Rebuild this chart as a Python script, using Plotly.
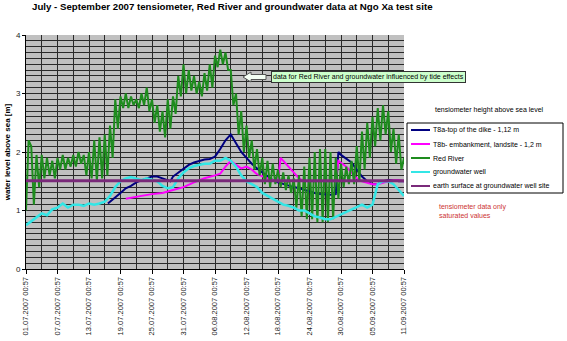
import datetime as dt
import plotly.graph_objects as go

START = dt.datetime(2007, 7, 1, 0, 57)

# ---- data (day offsets from 01.07.2007 00:57, values in m above sea level) ----
rr_high = [2.20, 2.10, 1.95, 1.95, 1.90, 1.85, 1.90, 1.95, 1.90, 1.95,
           2.00, 1.95, 2.00, 2.20, 2.25, 2.30, 2.45, 2.90, 2.95, 3.00,
           2.95, 2.90, 3.00, 3.10, 2.90, 2.80, 2.70, 2.90, 2.95, 3.30,
           3.50, 3.40, 3.30, 3.20, 3.35, 3.50, 3.65, 3.75, 3.70, 3.40,
           3.00, 2.70, 2.45, 2.20, 2.05, 1.90, 1.85, 1.80, 1.70, 1.65,
           1.60, 1.55, 1.60, 1.75, 1.90, 2.00, 2.05, 2.05, 2.00, 1.90,
           1.80, 1.75, 1.85, 2.10, 2.35, 2.50, 2.60, 2.75, 2.80, 2.70,
           2.40, 2.30]
rr_low = [1.00, 1.10, 1.40, 1.55, 1.60, 1.55, 1.70, 1.70, 1.75, 1.75,
          1.80, 1.60, 1.55, 1.50, 1.55, 1.60, 1.90, 2.40, 2.75, 2.75,
          2.80, 2.75, 2.80, 2.70, 2.50, 2.35, 2.25, 2.40, 2.65, 2.95,
          3.00, 3.05, 3.00, 2.95, 3.05, 3.10, 3.45, 3.50, 3.40, 2.80,
          2.30, 2.00, 1.90, 1.70, 1.60, 1.45, 1.40, 1.45, 1.40, 1.35,
          1.30, 1.05, 0.90, 0.85, 0.85, 0.80, 0.80, 0.80, 0.85, 1.20,
          1.40, 1.45, 1.45, 1.50, 1.70, 1.90, 2.10, 2.20, 2.30, 2.00,
          1.80, 1.70]
rr_end = 1.90

gw_days = [0, 1, 2, 3, 4, 5, 6, 7, 8, 9, 10, 11, 12, 13, 14, 15, 16, 17, 18, 19,
           20, 21, 22, 23, 24, 25, 26, 27, 28, 29, 30, 31, 32, 33, 34, 35, 36, 37, 38, 39,
           40, 41, 42, 43, 44, 45, 46, 47, 48, 49, 50, 51, 52, 53, 54, 55, 56, 57, 58,
           63, 64, 65, 66, 67, 68, 69, 70, 71, 72]
gw_vals = [0.75, 0.82, 0.88, 0.95, 0.92, 1.02, 1.05, 1.12, 1.05, 1.10, 1.10, 1.08, 1.12, 1.10, 1.12, 1.15, 1.25, 1.40, 1.50, 1.55,
           1.57, 1.55, 1.52, 1.55, 1.52, 1.50, 1.42, 1.38, 1.40, 1.55, 1.65, 1.72, 1.76, 1.78, 1.80, 1.80, 1.85, 1.85, 1.90, 1.85,
           1.75, 1.60, 1.50, 1.45, 1.40, 1.30, 1.25, 1.20, 1.15, 1.10, 1.08, 1.05, 1.00, 1.00, 0.95, 0.90, 0.88, 0.85, 0.85,
           1.05, 1.10, 1.05, 1.10, 1.45, 1.50, 1.50, 1.45, 1.35, 1.25]

t8a_days = [15.6, 17, 18, 19, 20, 21, 22, 23, 24, 25, 26, 27, 27.5, 28, 29, 30, 31, 32, 33, 34,
            35, 36, 37, 38, 39, 40, 41, 42, 43, 44, 45, 46, 47, 48, 49, 50, 51, 52, 53, 54,
            55, 56, 57, 58, 59, 59.5, 60, 61, 62, 63, 64, 65, 66, 67, 68, 69, 70, 71, 72]
t8a_vals = [1.12, 1.22, 1.30, 1.38, 1.42, 1.48, 1.52, 1.55, 1.58, 1.58, 1.55, 1.52, 1.50, 1.58, 1.65, 1.72, 1.78, 1.82, 1.85, 1.87,
            1.88, 1.92, 2.05, 2.20, 2.30, 2.15, 2.00, 1.90, 1.80, 1.72, 1.65, 1.58, 1.52, 1.48, 1.45, 1.42, 1.40, 1.38, 1.35, 1.33,
            1.30, 1.28, 1.27, 1.27, 1.28, 2.00, 1.95, 1.88, 1.82, 1.70, 1.58, 1.50, 1.45, 1.45, 1.50, 1.52, 1.52, 1.50, 1.50]

t8b_days = [19, 20, 22, 24, 26, 28, 30, 32, 34, 36, 37, 38, 39, 40, 41, 42, 43, 44, 45, 46,
            47, 48, 48.5, 49, 50, 51, 52, 53, 54, 56, 58, 59, 59.5, 60, 61, 62, 63, 64, 65, 66,
            67, 68, 69, 70, 71, 72]
t8b_vals = [1.20, 1.22, 1.25, 1.28, 1.30, 1.35, 1.40, 1.48, 1.55, 1.60, 1.63, 1.75, 1.85, 1.78, 1.72, 1.75, 1.70, 1.62, 1.58, 1.55,
            1.52, 1.50, 1.90, 1.85, 1.75, 1.65, 1.55, 1.50, 1.50, 1.50, 1.50, 1.50, 1.85, 1.82, 1.75, 1.65, 1.55, 1.50, 1.48, 1.45,
            1.45, 1.48, 1.50, 1.52, 1.52, 1.50]

surface_days = [0, 72]
surface_vals = [1.51, 1.51]

series_names = ["T8a-top of the dike - 1,12 m",
                "T8b- embankment, landsite - 1,2 m",
                "Red River",
                "groundwater well",
                "earth surface at groundwater well site"]
series_colors = ["#000080", "#FF00FF", "#1E8C1E", "#33E6E6", "#7A2A7A"]
series_widths = [2, 2, 2, 2.5, 3]

# ---- build time axes from the day offsets ----
def to_dates(days):
    return [START + dt.timedelta(days=d) for d in days]

rr_days, rr_vals = [], []
for i, (h, l) in enumerate(zip(rr_high, rr_low)):
    rr_days += [i + 0.0, i + 0.5]
    rr_vals += [l if i == 0 else h, h if i == 0 else l]
rr_days.append(72)
rr_vals.append(rr_end)

# ---- pixel helpers for non-data decorations ----
W, H = 567, 341
L, R, T, B = 26, 404, 35, 269
def px(x):
    return (x - L) / (R - L)
def py(y):
    return (B - y) / (B - T)

FONT = "Liberation Sans, Arial, sans-serif"

fig = go.Figure()
all_series = [(t8a_days, t8a_vals), (t8b_days, t8b_vals), (rr_days, rr_vals),
              (gw_days, gw_vals), (surface_days, surface_vals)]
for (d, v), nm, c, w in zip(all_series, series_names, series_colors, series_widths):
    fig.add_trace(go.Scatter(x=to_dates(d), y=v, mode="lines", name=nm,
                             line=dict(color=c, width=w), showlegend=False))

grid = "#2a2a2a"
fig.update_layout(
    width=W, height=H,
    margin=dict(l=L, r=W - R, t=T, b=H - B, pad=0),
    paper_bgcolor="white", plot_bgcolor="#C0C0C0",
    font=dict(family=FONT, size=8, color="black"),
    title=dict(text="<b>July - September 2007 tensiometer, Red River and groundwater data at Ngo Xa test site</b>",
               x=32 / W, xanchor="left", y=1 - 7 / H, yanchor="middle",
               font=dict(family=FONT, size=9.7, color="black")),
    showlegend=False,
    xaxis=dict(
        type="date", automargin=False,
        range=[START, START + dt.timedelta(days=72)],
        tick0=START, dtick=6 * 86400000,
        tickformat="%d.%m.%Y %H:%M", tickangle=-90,
        tickfont=dict(family=FONT, size=7.5, color="#222"),
        ticks="outside", ticklen=4, tickcolor="black",
        showgrid=True, gridcolor=grid, gridwidth=1,
        minor=dict(dtick=3 * 86400000, tick0=START, showgrid=True, gridcolor=grid, gridwidth=1),
        showline=True, linecolor="black", linewidth=1, zeroline=False,
    ),
    yaxis=dict(
        range=[0, 4], dtick=1, tick0=0, automargin=False,
        title=dict(text="<b>water level above sea [m]</b>", standoff=4,
                   font=dict(family=FONT, size=8, color="black")),
        tickfont=dict(family=FONT, size=8, color="#222"),
        ticks="outside", ticklen=3, tickcolor="black",
        showgrid=True, gridcolor=grid, gridwidth=1,
        minor=dict(dtick=0.1, showgrid=True, gridcolor=grid, gridwidth=1),
        showline=True, linecolor="black", linewidth=1, zeroline=False,
    ),
)

# block arrow pointing left
tip, hb, se = 243, 251, 266
cy = 77
path = (f"M {px(tip)} {py(cy)} L {px(hb)} {py(cy-5)} L {px(hb)} {py(cy-2.5)} "
        f"L {px(se)} {py(cy-2.5)} L {px(se)} {py(cy+2.5)} L {px(hb)} {py(cy+2.5)} "
        f"L {px(hb)} {py(cy+5)} Z")
fig.add_shape(type="path", path=path, xref="paper", yref="paper",
              fillcolor="#F4FFF4", line=dict(color="#555555", width=1))

fig.add_annotation(text="data for Red River and groundwater influenced by tide effects",
                   xref="paper", yref="paper", x=px(271), y=py(77),
                   xanchor="left", yanchor="middle", showarrow=False,
                   bgcolor="#CCFFCC", bordercolor="#333333", borderwidth=1, borderpad=1,
                   font=dict(family=FONT, size=7, color="black"))
fig.add_annotation(text="tensiometer height above sea level",
                   xref="paper", yref="paper", x=px(433), y=py(110),
                   xanchor="left", yanchor="middle", showarrow=False,
                   font=dict(family=FONT, size=7, color="black"))
fig.add_annotation(text="tensiometer data only<br>saturated values",
                   xref="paper", yref="paper", x=px(437), y=py(211),
                   xanchor="left", yanchor="middle", showarrow=False, align="left",
                   font=dict(family=FONT, size=7, color="#CC3333"))

# manual legend box
fig.add_shape(type="rect", xref="paper", yref="paper",
              x0=px(407), x1=px(563), y0=py(123), y1=py(193),
              fillcolor="white", line=dict(color="black", width=1))
for k, (nm, c) in enumerate(zip(series_names, series_colors)):
    yy = 130 + 14 * k
    fig.add_shape(type="line", xref="paper", yref="paper",
                  x0=px(411), x1=px(430), y0=py(yy), y1=py(yy),
                  line=dict(color=c, width=2))
    fig.add_annotation(text=nm, xref="paper", yref="paper", x=px(431), y=py(yy),
                       xanchor="left", yanchor="middle", showarrow=False,
                       font=dict(family=FONT, size=7, color="black"))

fig.write_html("out.html")
